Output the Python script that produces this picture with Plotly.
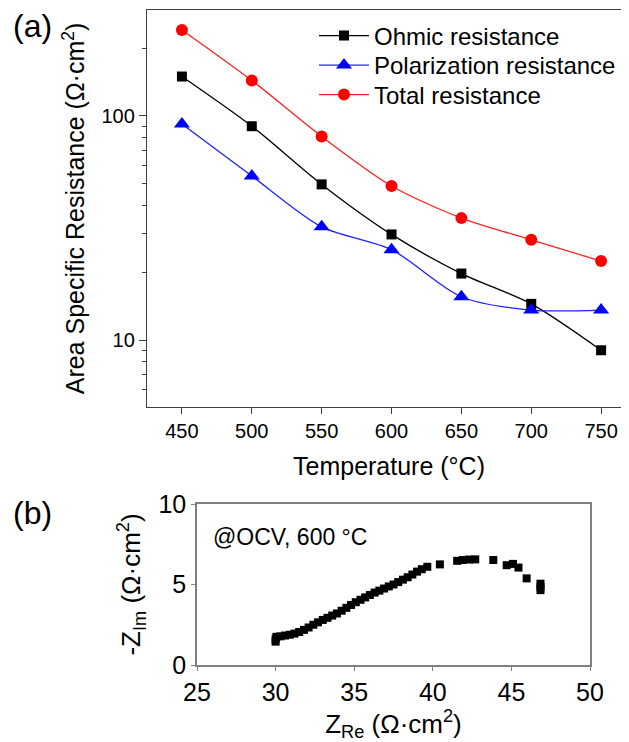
import plotly.graph_objects as go

# ---------------- data ----------------
temperature = [450, 500, 550, 600, 650, 700, 750]
ohmic = [150, 90, 49.5, 29.6, 19.8, 14.5, 9.0]
polarization = [92, 54, 32, 25.3, 15.6, 13.6, 13.6]
total = [242, 144, 81, 48.7, 35, 28, 22.5]

z_re = [30.0, 30.0, 30.05, 30.3, 30.6, 30.9, 31.2, 31.5, 31.8, 32.1, 32.4, 32.7,
        33.0, 33.3, 33.6, 33.9, 34.2, 34.5, 34.8, 35.1, 35.4, 35.7, 36.0, 36.3,
        36.6, 36.9, 37.2, 37.5, 37.8, 38.1, 38.4, 38.7, 39.0, 39.3, 39.65, 40.45,
        41.55, 41.9, 42.3, 42.7, 43.85, 44.7, 45.1, 45.45, 45.97, 46.85, 46.85, 46.85]
z_im = [1.45, 1.6, 1.75, 1.78, 1.83, 1.88, 1.95, 2.05, 2.18, 2.33, 2.5, 2.65,
        2.8, 2.93, 3.07, 3.2, 3.37, 3.55, 3.73, 3.9, 4.05, 4.2, 4.35, 4.5,
        4.62, 4.75, 4.88, 5.0, 5.15, 5.3, 5.45, 5.62, 5.8, 5.95, 6.1, 6.25,
        6.47, 6.52, 6.55, 6.56, 6.52, 6.2, 6.28, 6.05, 5.38, 5.05, 4.85, 4.65]

x_ticks_a = [450, 500, 550, 600, 650, 700, 750]
y_ticks_a = [10, 100]
y_minor_a = [6, 7, 8, 9, 20, 30, 40, 50, 60, 70, 80, 90, 200]
x_ticks_b = [25, 30, 35, 40, 45, 50]
y_ticks_b = [0, 5, 10]

FONT = "Liberation Sans, Arial, sans-serif"
W, H = 629, 742
OFF = 8  # page body margin offset

def px_x(p):
    return (p - OFF) / W

def px_y(p):
    return 1 - (p - OFF) / H

fig = go.Figure()

fig.add_trace(go.Scatter(
    x=temperature, y=ohmic, name="Ohmic resistance", mode="lines+markers",
    line=dict(color="black", width=1.3, shape="spline", smoothing=0.8),
    marker=dict(symbol="square", size=10, color="black"),
    xaxis="x", yaxis="y", legend="legend"))
fig.add_trace(go.Scatter(
    x=temperature, y=polarization, name="Polarization resistance", mode="lines+markers",
    line=dict(color="#2020ff", width=1.3, shape="spline", smoothing=0.8),
    marker=dict(symbol="triangle-up", size=14, color="#0000ff"),
    xaxis="x", yaxis="y", legend="legend2"))
fig.add_trace(go.Scatter(
    x=temperature, y=total, name="Total resistance", mode="lines+markers",
    line=dict(color="#ff2020", width=1.3, shape="spline", smoothing=0.8),
    marker=dict(symbol="circle", size=12, color="#ff0000"),
    xaxis="x", yaxis="y", legend="legend3"))

fig.add_trace(go.Scatter(
    x=z_re, y=z_im, mode="markers", showlegend=False,
    marker=dict(symbol="square", size=8, color="black"),
    xaxis="x2", yaxis="y2"))

axis_a_color = "#404040"
axis_b_color = "#808080"

def leg(ypx):
    return dict(x=px_x(314), y=px_y(ypx), xanchor="left", yanchor="middle",
                font=dict(size=24, family=FONT), bgcolor="rgba(0,0,0,0)",
                borderwidth=0, itemwidth=50)

fig.update_layout(
    template="none",
    width=W, height=H,
    margin=dict(l=0, r=0, t=0, b=0, autoexpand=False),
    paper_bgcolor="white", plot_bgcolor="white",
    font=dict(family=FONT, color="black"),
    showlegend=True,
    legend=leg(36),
    legend2=leg(65.5),
    legend3=leg(95),
    xaxis=dict(domain=[px_x(147), px_x(631)], range=[425, 771.4], anchor="y",
               automargin=False,
               tickvals=x_ticks_a, ticks="outside", ticklen=6, tickwidth=1.2,
               tickcolor=axis_a_color, showline=True, linecolor=axis_a_color,
               linewidth=1.3, mirror=True, showgrid=False, zeroline=False,
               tickfont=dict(size=20),
               title=dict(text="Temperature (°C)", font=dict(size=25), standoff=16)),
    yaxis=dict(domain=[px_y(407), px_y(10)], type="log", range=[0.701, 2.473],
               anchor="x", automargin=False, tickvals=y_ticks_a, ticktext=["10", "100"],
               ticks="outside", ticklen=7, tickwidth=1.2, tickcolor=axis_a_color,
               showline=True, linecolor=axis_a_color, linewidth=1.3, mirror=True,
               showgrid=False, zeroline=False, tickfont=dict(size=20),
               minor=dict(tickvals=y_minor_a, ticks="outside", ticklen=4,
                          tickcolor=axis_a_color, showgrid=False),
               title=dict(text="Area Specific Resistance (Ω·cm<sup>2</sup>)",
                          font=dict(size=25), standoff=9)),
    xaxis2=dict(domain=[px_x(197), px_x(590)], range=[25, 50], anchor="y2",
                automargin=False,
                tickvals=x_ticks_b, ticks="outside", ticklen=4, tickwidth=1.2,
                tickcolor=axis_b_color, showline=True, linecolor=axis_b_color,
                linewidth=1.5, mirror=True, showgrid=False, zeroline=False,
                tickfont=dict(size=25),
                title=dict(text="Z<sub>Re</sub> (Ω·cm<sup>2</sup>)",
                           font=dict(size=26), standoff=0)),
    yaxis2=dict(domain=[px_y(665), px_y(504)], range=[0, 10], anchor="x2",
                automargin=False,
                tickvals=y_ticks_b, ticks="outside", ticklen=4, tickwidth=1.2,
                tickcolor=axis_b_color, showline=True, linecolor=axis_b_color,
                linewidth=1.5, mirror=True, showgrid=False, zeroline=False,
                tickfont=dict(size=25),
                title=dict(text="-Z<sub>Im</sub> (Ω·cm<sup>2</sup>)",
                           font=dict(size=26), standoff=10)),
    annotations=[
        dict(text="(a)", x=px_x(11), y=px_y(26), xref="paper", yref="paper",
             xanchor="left", yanchor="middle", showarrow=False,
             font=dict(size=32, family=FONT)),
        dict(text="(b)", x=px_x(11), y=px_y(513), xref="paper", yref="paper",
             xanchor="left", yanchor="middle", showarrow=False,
             font=dict(size=32, family=FONT)),
        dict(text="@OCV, 600 °C", x=px_x(211), y=px_y(537), xref="paper", yref="paper",
             xanchor="left", yanchor="middle", showarrow=False,
             font=dict(size=23, family=FONT)),
    ],
)

fig.write_html("out.html")
